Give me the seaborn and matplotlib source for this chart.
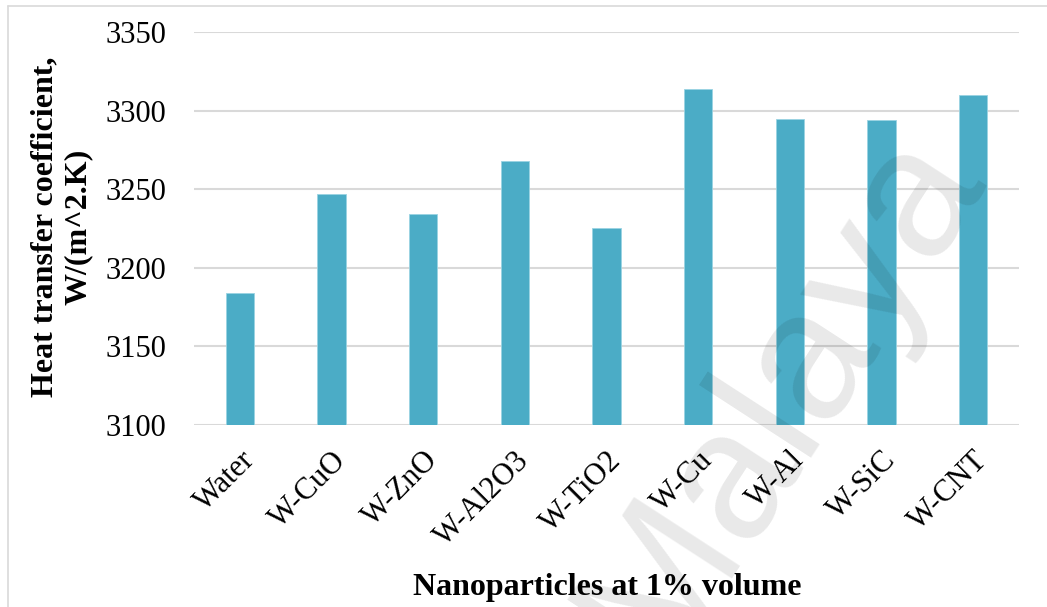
import matplotlib
matplotlib.use("Agg")
import matplotlib.pyplot as plt
import seaborn as sns
import pandas as pd
from matplotlib.lines import Line2D

categories = ["Water", "W-CuO", "W-ZnO", "W-Al2O3", "W-TiO2", "W-Cu", "W-Al", "W-SiC", "W-CNT"]
values = [3184, 3247, 3234.5, 3268, 3225.5, 3313.5, 3294.5, 3294, 3310]
y_ticks = [3100, 3150, 3200, 3250, 3300, 3350]
x_title = "Nanoparticles at 1% volume"
y_title = "Heat transfer coefficient,\nW/(m^2.K)"

sns.set_theme(style="white")
plt.rcParams["font.family"] = ["Liberation Serif", "DejaVu Serif"]
plt.rcParams["text.color"] = "black"

W, H = 1047, 607
fig = plt.figure(figsize=(W / 100, H / 100), dpi=100)
ax = fig.add_axes([194 / W, 1 - 425 / H, (1019 - 194) / W, (425 - 32) / H])

df = pd.DataFrame({"cat": categories, "val": values})
sns.barplot(data=df, x="cat", y="val", color="#4BACC6", saturation=1, width=0.31,
            edgecolor="#9ad3e2", linewidth=0.6, ax=ax, zorder=2)

ax.set_ylim(y_ticks[0], y_ticks[-1])
ax.set_xlim(-0.5, len(categories) - 0.5)
ax.set_yticks(y_ticks)
ax.yaxis.grid(True, color="#d9d9d9", linewidth=1.5)
ax.xaxis.grid(False)
ax.set_axisbelow(True)
for s in ax.spines.values():
    s.set_visible(False)
ax.tick_params(axis="both", length=0, colors="black")
ax.tick_params(axis="y", pad=20, labelsize=22)
ax.tick_params(axis="x", pad=15, labelsize=22)
plt.setp(ax.get_xticklabels(), rotation=45, ha="right", rotation_mode="anchor")
ax.set_xlabel("")
ax.set_ylabel("")

fig.text(607 / W, 1 - 588 / H, x_title, ha="center", va="center",
         fontsize=23, fontweight="bold", color="black")
fig.text(62 / W, 1 - 227 / H, y_title, ha="center", va="center", rotation=90,
         fontsize=23, fontweight="bold", multialignment="center", linespacing=1.2,
         color="black")

# outer chart border
fig.add_artist(Line2D([8 / W, 1], [1 - 6 / H, 1 - 6 / H], color="#d9d9d9", lw=1.2,
                      transform=fig.transFigure))
fig.add_artist(Line2D([8 / W, 8 / W], [0, 1 - 6 / H], color="#d9d9d9", lw=1.2,
                      transform=fig.transFigure))

# watermark
fig.text(780 / W, 1 - 395 / H, "Malaya", ha="center", va="center", rotation=57,
         fontsize=132, family="Liberation Sans", color="black", alpha=0.09, zorder=10)

fig.savefig("out.png", dpi=100)
